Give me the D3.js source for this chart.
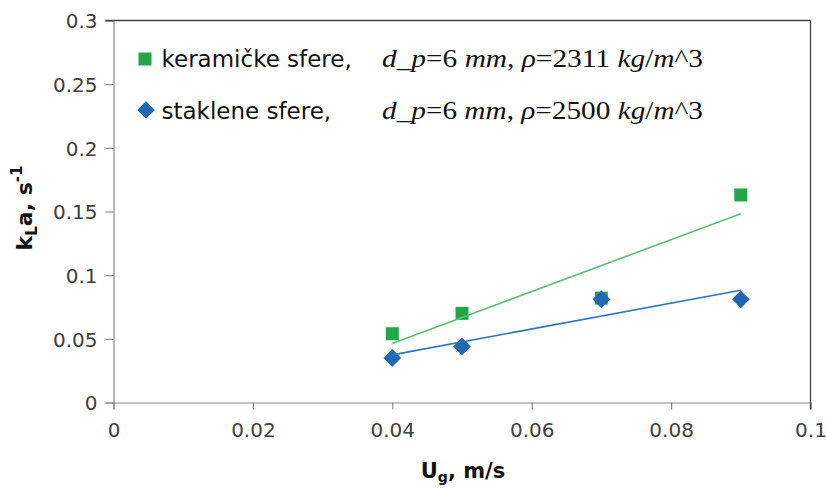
<!DOCTYPE html>
<html>
<head>
<meta charset="utf-8">
<script src="https://cdn.jsdelivr.net/npm/d3@7/dist/d3.min.js"></script>
<style>
  html, body { margin: 0; padding: 0; background: #ffffff; }
  svg { display: block; }
</style>
</head>
<body>
<svg id="chart" width="826" height="488"></svg>
<script>
// ---- data ----
const ugValues = [0.04, 0.05, 0.07, 0.09];
const keramickeValues = [0.054, 0.070, 0.082, 0.163];
const stakleneValues = [0.035, 0.044, 0.081, 0.081];
const seriesNames = ["keramičke sfere,", "staklene sfere,"];
const seriesDensity = ["2311", "2500"];
const xTicks = [0, 0.02, 0.04, 0.06, 0.08, 0.1];
const xTickLabels = ["0", "0.02", "0.04", "0.06", "0.08", "0.1"];
const yTicks = [0, 0.05, 0.1, 0.15, 0.2, 0.25, 0.3];
const yTickLabels = ["0", "0.05", "0.1", "0.15", "0.2", "0.25", "0.3"];

(function () {
// ---- layout ----
const svg = d3.select("#chart");
const pLeft = 113.5, pRight = 810.5, pTop = 20.5, pBottom = 402.5;
const x = d3.scaleLinear().domain([0, 0.1]).range([pLeft, pRight]);
const y = d3.scaleLinear().domain([0, 0.3]).range([pBottom, pTop]);

const GREEN = "#23a64a", BLUE = "#2067b4";
const GREEN_LINE = "#5cbf76", BLUE_LINE = "#2b76c3";
const AXIS = "#8a8a8a", FRAME = "#454545", LABEL = "#404040";
const SANS = "'DejaVu Sans', sans-serif";

// axes
const yAxis = d3.axisLeft(y).tickValues(yTicks)
  .tickFormat((d, i) => yTickLabels[i]).tickSize(8).tickPadding(8);
const gy = svg.append("g").attr("transform", `translate(${pLeft},0)`).call(yAxis);
const xAxis = d3.axisBottom(x).tickValues(xTicks)
  .tickFormat((d, i) => xTickLabels[i]).tickSize(7).tickPadding(12);
const gx = svg.append("g").attr("transform", `translate(0,${pBottom})`).call(xAxis);
[gx, gy].forEach(g => {
  g.select(".domain").attr("stroke", AXIS).attr("stroke-width", 1.2);
  g.selectAll(".tick line").attr("stroke", AXIS).attr("stroke-width", 1.2);
  g.selectAll(".tick text").attr("fill", LABEL)
    .style("font-family", SANS).style("font-size", "20px");
});
gy.selectAll(".tick text").attr("dy", "0.36em");
gx.selectAll(".tick text").attr("dy", "0.75em");

// frame top & right (dark)
svg.append("line").attr("x1", pLeft - 8).attr("x2", pRight).attr("y1", pTop).attr("y2", pTop)
  .attr("stroke", FRAME).attr("stroke-width", 1.3);
svg.append("line").attr("x1", pRight).attr("x2", pRight).attr("y1", pTop).attr("y2", pBottom + 7)
  .attr("stroke", FRAME).attr("stroke-width", 1.3);

// markers
const sq = 13;
svg.append("g").selectAll("rect").data(ugValues).join("rect")
  .attr("x", (d) => x(d) - sq / 2)
  .attr("y", (d, i) => y(keramickeValues[i]) - sq / 2)
  .attr("width", sq).attr("height", sq).attr("fill", GREEN);

const diamond = d3.symbol().type(d3.symbolDiamond2).size(200);
svg.append("g").selectAll("path").data(ugValues).join("path")
  .attr("transform", (d, i) => `translate(${x(d)},${y(stakleneValues[i])})`)
  .attr("d", diamond).attr("fill", BLUE);

// linear trendlines (least squares)
function fit(xs, ys) {
  const mx = d3.mean(xs), my = d3.mean(ys);
  let sxy = 0, sxx = 0;
  xs.forEach((v, i) => { sxy += (v - mx) * (ys[i] - my); sxx += (v - mx) * (v - mx); });
  const b = sxy / sxx, a = my - b * mx;
  const x0 = d3.min(xs), x1 = d3.max(xs);
  return [[x0, a + b * x0], [x1, a + b * x1]];
}
const line = d3.line().x(d => x(d[0])).y(d => y(d[1]));
svg.append("path").attr("d", line(fit(ugValues, keramickeValues)))
  .attr("stroke", GREEN_LINE).attr("stroke-width", 1.6).attr("fill", "none");
svg.append("path").attr("d", line(fit(ugValues, stakleneValues)))
  .attr("stroke", BLUE_LINE).attr("stroke-width", 1.6).attr("fill", "none");

// legend
const legendY = [67, 119];
const lg = svg.append("g");
lg.append("rect").attr("x", 138.5).attr("y", legendY[0] - 14.5).attr("width", sq).attr("height", sq).attr("fill", GREEN);
lg.append("path").attr("transform", `translate(146,${legendY[1] - 9})`).attr("d", diamond).attr("fill", BLUE);
seriesNames.forEach((name, i) => {
  lg.append("text").attr("x", 161.5).attr("y", legendY[i]).text(name)
    .attr("fill", "#111").style("font-family", SANS).style("font-size", "23px");
  const t = lg.append("text").attr("x", 382).attr("y", legendY[i])
    .attr("fill", "#111").style("font-family", "'Liberation Serif', serif").style("font-size", "25px")
    .attr("textLength", 321).attr("lengthAdjust", "spacingAndGlyphs");
  const parts = [["d_p", true], ["=6 ", false], ["mm", true], [", ", false], ["ρ", true],
                 ["=" + seriesDensity[i] + " ", false], ["kg", true], ["/", false], ["m", true], ["^3", false]];
  parts.forEach(p => t.append("tspan").text(p[0]).style("font-style", p[1] ? "italic" : "normal"));
});

// axis titles
const xt = svg.append("text").attr("x", 463).attr("y", 478).attr("text-anchor", "middle")
  .attr("fill", "#111").style("font-family", SANS).style("font-size", "21px").style("font-weight", "bold");
xt.append("tspan").text("U");
xt.append("tspan").text("g").attr("dy", 4).style("font-size", "14px");
xt.append("tspan").text(", m/s").attr("dy", -4);

const yt = svg.append("text").attr("transform", "translate(32,208) rotate(-90)").attr("text-anchor", "middle")
  .attr("fill", "#111").style("font-family", SANS).style("font-size", "22px").style("font-weight", "bold");
yt.append("tspan").text("k");
yt.append("tspan").text("L").attr("dy", 5).style("font-size", "15px");
yt.append("tspan").text("a, s").attr("dy", -5);
yt.append("tspan").text("-1").attr("dy", -10).style("font-size", "15px");
})();
</script>
</body>
</html>
